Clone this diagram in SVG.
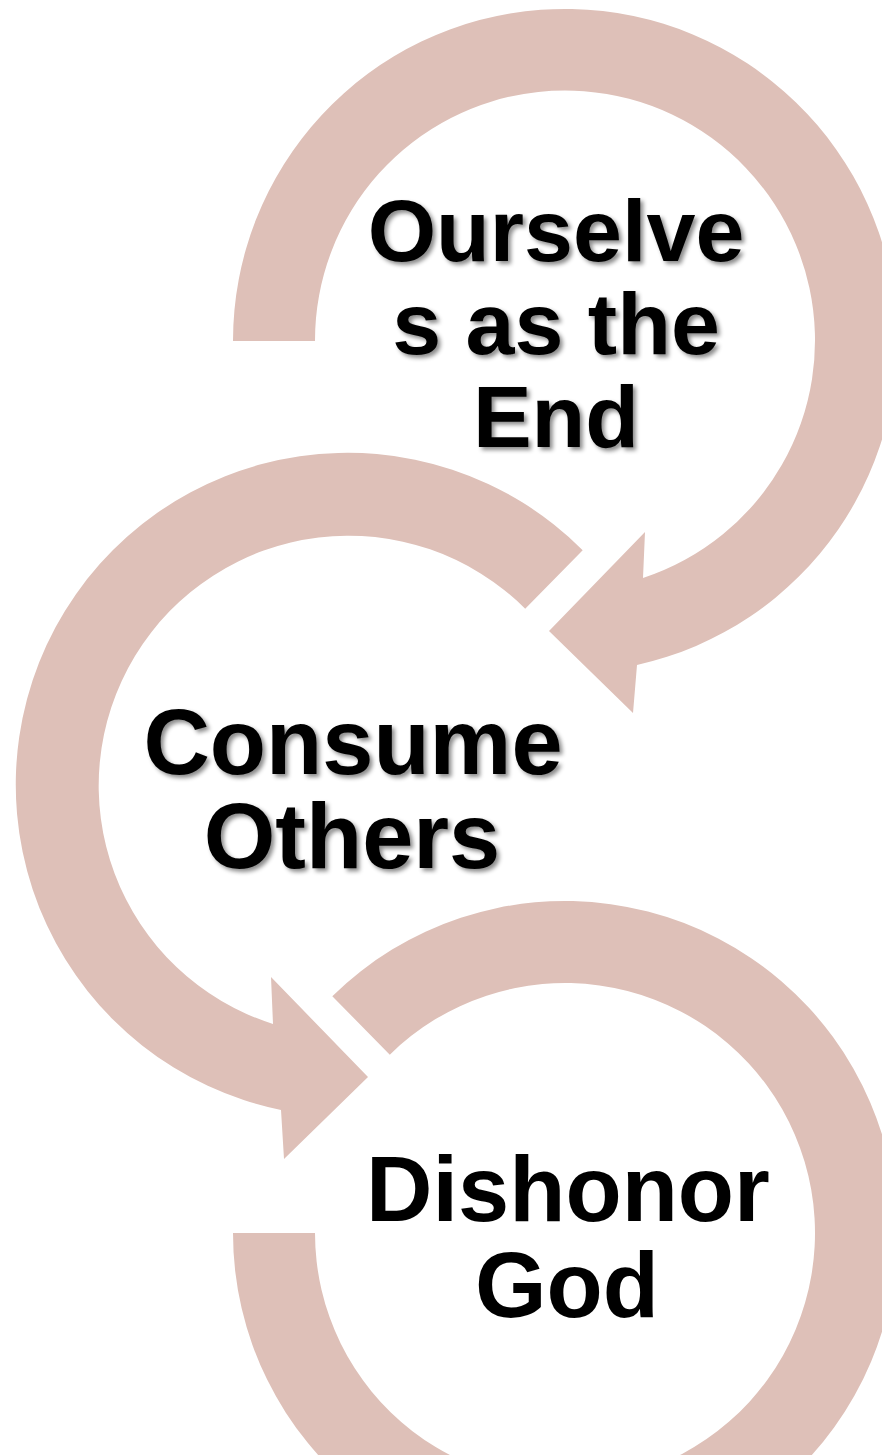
<svg xmlns="http://www.w3.org/2000/svg" width="882" height="1455" viewBox="0 0 882 1455">
<style>
.arc{fill:#DEC0B8;stroke:none}
.t{font-family:"Liberation Sans",Arial,sans-serif;font-weight:bold;fill:#000;text-anchor:middle}
.sh{filter:url(#ds)}
</style>
<defs>
<filter id="ds" x="-10%" y="-10%" width="130%" height="130%">
<feDropShadow dx="3" dy="3" stdDeviation="2" flood-color="#000" flood-opacity="0.45"/>
</filter>
</defs>
<rect width="882" height="1455" fill="#fff"/>
<g id="connectors">
<path id="arrow1" class="arc" d="M 233,341 A 332 332 0 1 1 637,665 L 633,713 L 549,631 L 645,532 L 643,578 A 250 250 0 1 0 315,341 Z"/>
<path id="arrow2" class="arc" d="M 582.7,550.2 A 332 332 0 1 0 281,1110 L 284,1159 L 368,1077 L 271,977 L 273,1024 A 250 250 0 1 1 525.2,608.7 Z"/>
<path id="arrow3" class="arc" d="M 332.3,996.2 A 332 332 0 1 1 233,1233 L 315,1233 A 250 250 0 1 0 389.8,1054.7 Z"/>
</g>
<g id="node1" class="sh">
<text class="t" font-size="88" x="556" y="261">Ourselve</text>
<text class="t" font-size="88" x="556" y="354">s as the</text>
<text class="t" font-size="88" x="556" y="447">End</text>
</g>
<g id="node2" class="sh">
<text class="t" font-size="92" x="353" y="774">Consume</text>
<text class="t" font-size="92" x="352" y="868">Others</text>
</g>
<g id="node3">
<text class="t" font-size="92" x="568" y="1221">Dishonor</text>
<text class="t" font-size="92" x="567" y="1317">God</text>
</g>
</svg>
